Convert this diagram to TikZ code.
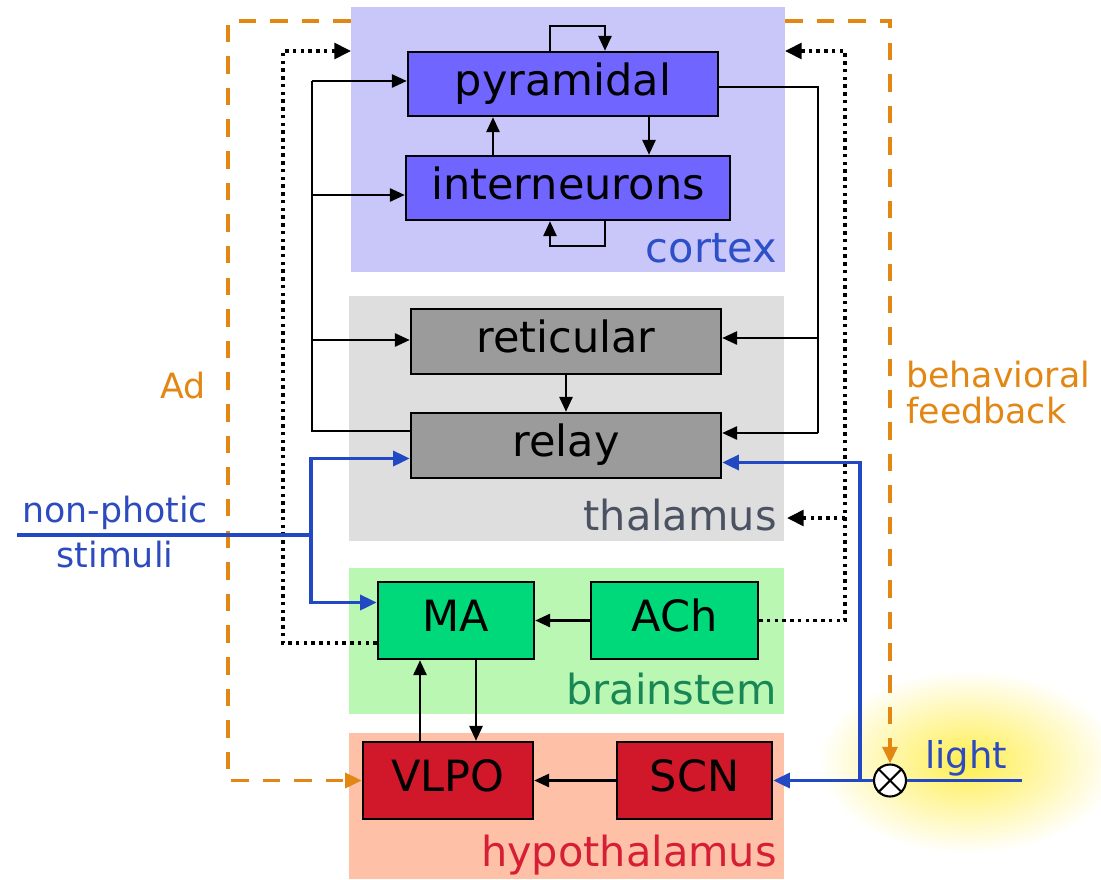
\documentclass[tikz,border=0pt]{standalone}
\usepackage{fontspec}
\setmainfont{DejaVu Sans}
\usetikzlibrary{arrows.meta,calc}

\definecolor{ctxbg}{RGB}{201,199,250}
\definecolor{ctxbox}{RGB}{112,102,255}
\definecolor{ctxtxt}{RGB}{45,80,200}
\definecolor{thbg}{RGB}{222,222,222}
\definecolor{thbox}{RGB}{155,155,155}
\definecolor{thtxt}{RGB}{75,82,98}
\definecolor{bsbg}{RGB}{185,247,178}
\definecolor{bsbox}{RGB}{0,217,122}
\definecolor{bstxt}{RGB}{25,135,85}
\definecolor{hybg}{RGB}{255,192,168}
\definecolor{hybox}{RGB}{208,24,42}
\definecolor{hytxt}{RGB}{214,30,52}
\definecolor{lineblue}{RGB}{35,72,195}
\definecolor{txtblue}{RGB}{45,75,190}
\definecolor{orng}{RGB}{226,135,20}
\definecolor{glowc}{RGB}{255,238,80}

\def\pxu{0.02cm}

\begin{document}
\begin{tikzpicture}[x=0.02cm, y=-0.02cm,
  region/.style={rectangle, draw=none, inner sep=0pt, outer sep=0pt},
  unit/.style={rectangle, draw=black, line width=1.4pt, inner sep=0pt,
    font=\fontsize{24.5}{28}\selectfont, text height=18.6pt, text depth=5.9pt},
  reglbl/.style={font=\fontsize{23.6}{28}\selectfont, inner sep=0pt, anchor=base east},
  sidelbl/.style={font=\fontsize{19.8}{24}\selectfont, inner sep=0pt},
  link/.style={line width=1.3pt},
  linkarr/.style={link, -{Triangle[length=8.5pt,width=7.5pt]}},
  blueline/.style={draw=lineblue, line width=2.1pt},
  bluearr/.style={blueline, -{Triangle[length=9.5pt,width=8.5pt]}},
  orangedash/.style={draw=orng, line width=2.1pt, dash pattern=on 10pt off 8pt,
    -{Triangle[length=9.5pt,width=8.5pt]}},
  dotline/.style={line width=2pt, dash pattern=on 2pt off 2.4pt},
  dotarr/.style={dotline, -{Triangle[length=9.5pt,width=9pt]}}
]
\useasboundingbox (0,0) rectangle (1101,879);

% soft glow behind the light input
\begin{scope}
  \clip (0,0) rectangle (1101,879);
  \shade[inner color=glowc, outer color=white] (968,762) ellipse [x radius=150, y radius=92];
\end{scope}

% brain regions
\node[region, fill=ctxbg, minimum width=434*\pxu, minimum height=265*\pxu] (ctx) at (568,139.5) {};
\node[region, fill=thbg, minimum width=435*\pxu, minimum height=245*\pxu] (thal) at (566.5,418.5) {};
\node[region, fill=bsbg, minimum width=435*\pxu, minimum height=146*\pxu] (bstem) at (566.5,641) {};
\node[region, fill=hybg, minimum width=435*\pxu, minimum height=146*\pxu] (hypo) at (566.5,806) {};

\node[reglbl, text=ctxtxt] (ctxlbl) at (777,262) {cortex};
\node[reglbl, text=thtxt] (thallbl) at (777,530) {thalamus};
\node[reglbl, text=bstxt] (bslbl) at (777,704) {brainstem};
\node[reglbl, text=hytxt] (hylbl) at (777,866) {hypothalamus};

% neuron populations
\node[unit, fill=ctxbox, minimum width=310*\pxu, minimum height=64*\pxu] (pyr) at (563,84) {pyramidal};
\node[unit, fill=ctxbox, minimum width=324*\pxu, minimum height=64*\pxu] (inter) at (568,188) {interneurons};
\node[unit, fill=thbox, minimum width=310*\pxu, minimum height=65*\pxu] (ret) at (566,341.5) {reticular};
\node[unit, fill=thbox, minimum width=310*\pxu, minimum height=65*\pxu] (relay) at (566,445.5) {relay};
\node[unit, fill=bsbox, minimum width=156*\pxu, minimum height=77*\pxu] (MA) at (456,620.5) {MA};
\node[unit, fill=bsbox, minimum width=167*\pxu, minimum height=77*\pxu] (ACh) at (674.5,620.5) {ACh};
\node[unit, fill=hybox, minimum width=170*\pxu, minimum height=77*\pxu] (VLPO) at (448,780.5) {VLPO};
\node[unit, fill=hybox, minimum width=155*\pxu, minimum height=77*\pxu] (SCN) at (694.5,780.5) {SCN};

% cortical loops
\draw[linkarr] (550,0 |- pyr.north) -- (550,26) -- (605,26) -- (605,0 |- pyr.north);
\draw[linkarr] (605,0 |- inter.south) -- (605,246) -- (550,246) -- (550,0 |- inter.south);
\draw[linkarr] (493,0 |- inter.north) -- (493,0 |- pyr.south);
\draw[linkarr] (649,0 |- pyr.south) -- (649,0 |- inter.north);

% relay -> cortex and reticular
\coordinate (lbusbot) at (312,431);
\coordinate (lbustop) at (312,81);
\draw[link] (relay.west |- lbusbot) -- (lbusbot) -- (lbustop);
\draw[linkarr] (lbustop) -- (pyr.west |- lbustop);
\draw[linkarr] (312,195) -- (inter.west |- 0,195);
\draw[linkarr] (312,340) -- (ret.west |- 0,340);

% pyramidal -> thalamus
\coordinate (rbustop) at (818,87);
\coordinate (rbusbot) at (818,433);
\draw[link] (pyr.east |- rbustop) -- (rbustop) -- (rbusbot);
\draw[linkarr] (rbusbot) -- (relay.east |- rbusbot);
\draw[linkarr] (818,338) -- (ret.east |- 0,338);

% thalamus, brainstem and hypothalamus links
\draw[linkarr] (ret.south) -- (relay.north);
\draw[linkarr] (ACh.west) -- (MA.east);
\draw[linkarr] (SCN.west) -- (VLPO.east);
\draw[linkarr] (420,0 |- VLPO.north) -- (420,0 |- MA.south);
\draw[linkarr] (476,0 |- MA.south) -- (476,0 |- VLPO.north);

% neuromodulatory projections
\draw[dotarr] ($(MA.west)+(0,22.5)$) -| (283,51) -- (ctx.west |- 0,51);
\draw[dotarr] (ACh.east) -| (845,51) -- (ctx.east |- 0,51);
\draw[dotarr] (845,518) -- ($(thal.east |- 0,518)+(3,0)$);

% adenosine and behavioural feedback
\node[circle, draw, fill=white, line width=1.2pt, minimum size=32*\pxu, inner sep=0pt] (mix) at (890,780.5) {};
\draw[line width=1.2pt] (mix.45) -- (mix.225) (mix.135) -- (mix.315);
\draw[orangedash] (ctx.west |- 0,21) -| (228,780.5) -- (VLPO.west);
\draw[orangedash] (ctx.east |- 0,21) -| (mix.north);
\node[sidelbl, text=orng, anchor=base east] (adlbl) at (206,398) {Ad};
\node[sidelbl, text=orng, anchor=base west] (fb1) at (906,387) {behavioral};
\node[sidelbl, text=orng, anchor=base west] (fb2) at (906,423) {feedback};

% photic input
\coordinate (lightend) at (1022,780.5);
\coordinate (lj) at (860,780.5);
\draw[blueline] (lightend) -- (mix.east);
\draw[bluearr] (mix.west) -- (SCN.east);
\draw[bluearr] (lj) |- ($(relay.east)+(0,17)$);
\node[sidelbl, text=txtblue, anchor=base west, font=\fontsize{21}{24}\selectfont] (lightlbl) at (925,768) {light};

% non-photic input
\coordinate (npstart) at (17,535);
\coordinate (npj) at (311,535);
\draw[blueline] (npstart) -- (npj);
\draw[bluearr] (npj) |- ($(relay.west)+(0,13)$);
\draw[bluearr] (npj) |- ($(MA.west)+(0,-18)$);
\node[sidelbl, text=txtblue, anchor=base] (np1) at (115,522) {non-photic};
\node[sidelbl, text=txtblue, anchor=base] (np2) at (115,567) {stimuli};
\end{tikzpicture}
\end{document}
